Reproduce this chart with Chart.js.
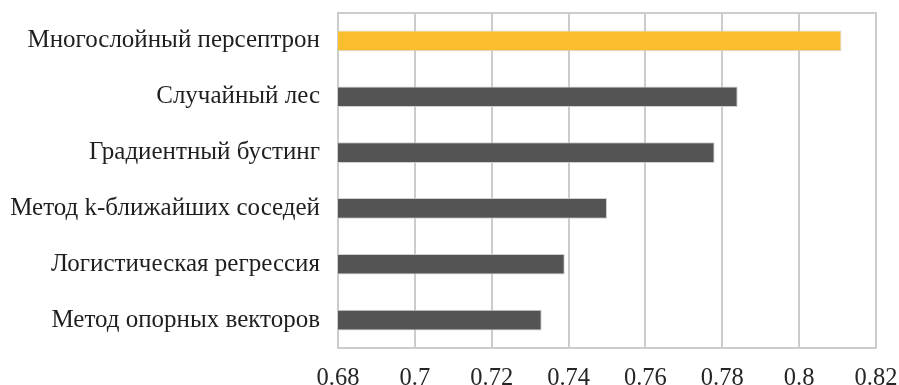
<!DOCTYPE html>
<html>
<head>
<meta charset="utf-8">
<script src="https://cdn.jsdelivr.net/npm/chart.js@4.4.1/dist/chart.umd.min.js"></script>
<style>
  html, body { margin: 0; padding: 0; background: #ffffff; }
  #wrap { width: 899px; height: 385px; position: relative; }
</style>
</head>
<body>
<div id="wrap"><canvas id="chart" width="899" height="385"></canvas></div>
<script>
// Model names (top to bottom) and their scores
const models = [
  'Многослойный персептрон',
  'Случайный лес',
  'Градиентный бустинг',
  'Метод k-ближайших соседей',
  'Логистическая регрессия',
  'Метод опорных векторов'
];
const scores = [0.811, 0.784, 0.778, 0.750, 0.739, 0.733];
const barColors = ['#FBBF2D', '#545454', '#545454', '#545454', '#545454', '#545454'];
const xTickLabels = ['0.68', '0.7', '0.72', '0.74', '0.76', '0.78', '0.8', '0.82'];

// Thin frame around the plotting area
const framePlugin = {
  id: 'frame',
  beforeDatasetsDraw(chart) {
    const { ctx, chartArea: a } = chart;
    ctx.save();
    ctx.strokeStyle = '#cccccc';
    ctx.lineWidth = 2;
    ctx.strokeRect(a.left, a.top, a.right - a.left, a.bottom - a.top);
    ctx.restore();
  }
};

new Chart(document.getElementById('chart'), {
  type: 'bar',
  data: {
    labels: models,
    datasets: [{
      data: scores,
      backgroundColor: barColors,
      borderColor: '#cfcfcf',
      borderWidth: 1,
      barPercentage: 0.37,
      categoryPercentage: 1.0
    }]
  },
  options: {
    indexAxis: 'y',
    responsive: false,
    animation: false,
    layout: { padding: { top: 13, right: 23, bottom: 0, left: 0 } },
    plugins: { legend: { display: false }, tooltip: { enabled: false } },
    scales: {
      x: {
        min: 0.68,
        max: 0.82,
        ticks: {
          stepSize: 0.02,
          padding: 16,
          color: '#262626',
          font: { family: 'Liberation Serif', size: 24.5 },
          callback: (v, i) => xTickLabels[i]
        },
        grid: { color: '#cccccc', lineWidth: 2, drawTicks: false },
        border: { display: false },
        afterFit(scale) {
          scale.height = 37;
          scale.paddingLeft = 0;
          scale.paddingRight = 0;
        }
      },
      y: {
        ticks: {
          padding: 18,
          color: '#1f1f1f',
          font: { family: 'Liberation Serif', size: 25 }
        },
        grid: { display: false, drawTicks: false },
        border: { display: false },
        afterFit(scale) {
          scale.width = 338;
          scale.paddingTop = 0;
          scale.paddingBottom = 0;
        }
      }
    }
  },
  plugins: [framePlugin]
});
</script>
</body>
</html>
